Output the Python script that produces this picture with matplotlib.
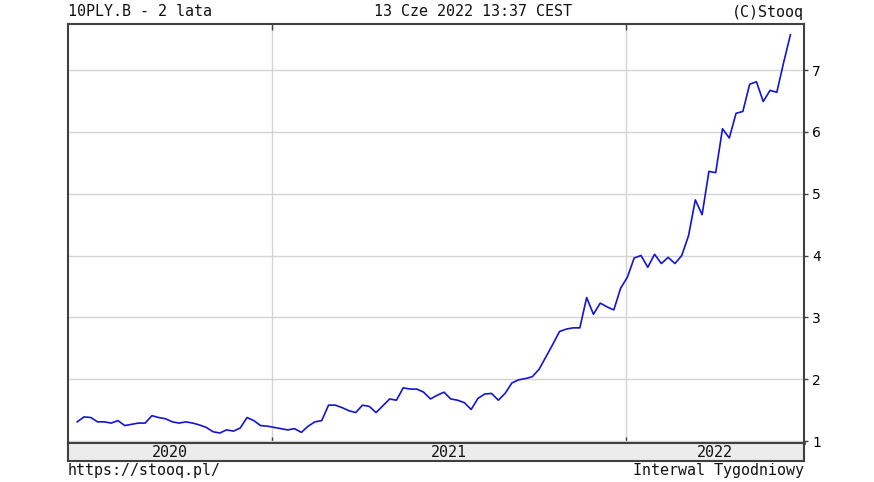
import matplotlib
matplotlib.use('Agg')
import matplotlib.pyplot as plt
import matplotlib.dates as mdates
import matplotlib.transforms as mtransforms
import pandas as pd

# Tygodniowe notowania 10PLY.B (rentownosc)
dates = pd.date_range('2020-06-14', periods=106, freq='7D')
values = [
    1.31, 1.39, 1.38, 1.31, 1.31, 1.29, 1.33, 1.25, 1.27, 1.29,
    1.29, 1.41, 1.38, 1.36, 1.31, 1.29, 1.31, 1.29, 1.26, 1.22,
    1.15, 1.13, 1.18, 1.16, 1.21, 1.38, 1.33, 1.25, 1.24,
    1.22, 1.20, 1.18, 1.20, 1.14, 1.24, 1.31, 1.33, 1.58, 1.58,
    1.54, 1.49, 1.46, 1.58, 1.56, 1.46, 1.57, 1.68, 1.66, 1.86,
    1.84, 1.84, 1.79, 1.68, 1.74, 1.79, 1.68, 1.66,
    1.62, 1.51, 1.69, 1.76, 1.77, 1.66, 1.77, 1.94, 1.99, 2.01,
    2.04, 2.16, 2.36, 2.56, 2.77, 2.81, 2.83, 2.83, 3.32, 3.05,
    3.23, 3.17, 3.12, 3.47, 3.65,
    3.96, 4.00, 3.81, 4.02, 3.87, 3.97, 3.87, 4.00, 4.32, 4.90,
    4.66, 5.36, 5.34, 6.05, 5.90, 6.30, 6.33, 6.77, 6.81, 6.49,
    6.67, 6.64, 7.12, 7.57,
]
y_ticks = [1, 2, 3, 4, 5, 6, 7]
year_bounds = pd.to_datetime(['2021-01-01', '2022-01-01'])
year_labels = ['2020', '2021', '2022']

x_start = pd.Timestamp('2020-06-04')
x_end = pd.Timestamp('2022-07-03')

W, H = 874, 482
fig = plt.figure(figsize=(W / 100, H / 100), dpi=100)
frame = '#404040'
mono = 'DejaVu Sans Mono'

# glowny obszar wykresu
left, right, top, bottom = 67.5, 804, 24, 443
ax = fig.add_axes([left / W, 1 - bottom / H, (right - left) / W, (bottom - top) / H])
ax.plot(dates, values, color='#1414d2', linewidth=1.2)
ax.set_xlim(x_start, x_end)
ax.set_ylim(0.968, 7.744)

ax.set_yticks(y_ticks)
ax.set_xticks(year_bounds)
ax.xaxis.set_major_formatter(plt.NullFormatter())
ax.grid(True, color='#d4d4d4', linewidth=1)
ax.set_axisbelow(True)
ax.yaxis.tick_right()
ax.tick_params(axis='y', which='both', right=True, left=False, direction='out',
               length=3, width=1, color=frame, labelsize=10, pad=3)
ax.tick_params(axis='x', top=True, bottom=True, direction='in',
               length=4, width=1, color=frame)
for s in ax.spines.values():
    s.set_color(frame)
    s.set_linewidth(1.5)
ax.spines['bottom'].set_linewidth(2)

# pasek z latami
band_top, band_bottom = 443, 461
bx = fig.add_axes([left / W, 1 - band_bottom / H, (right - left) / W,
                   (band_bottom - band_top) / H], facecolor='#ececec')
bx.set_xlim(x_start, x_end)
bx.set_xticks([])
bx.set_yticks([])
for s in bx.spines.values():
    s.set_color(frame)
    s.set_linewidth(1.5)
edges = [x_start] + list(year_bounds) + [x_end]
trans = mtransforms.blended_transform_factory(bx.transData, bx.transAxes)
for i, lab in enumerate(year_labels):
    mid = edges[i] + (edges[i + 1] - edges[i]) / 2
    bx.text(mdates.date2num(mid), 0.45, lab, transform=trans, ha='center',
            va='center', fontsize=10.8, family=mono, color='#111111')

# naglowek i stopka
fig.text(left / W, 1 - 12 / H, '10PLY.B - 2 lata', ha='left', va='center',
         fontsize=10.8, family=mono, color='#111111')
fig.text(473.5 / W, 1 - 12 / H, '13 Cze 2022 13:37 CEST', ha='center', va='center',
         fontsize=10.8, family=mono, color='#111111')
fig.text(right / W, 1 - 12 / H, '(C)Stooq', ha='right', va='center',
         fontsize=10.8, family=mono, color='#111111')
fig.text(left / W, 1 - 470 / H, 'https://stooq.pl/', ha='left', va='center',
         fontsize=10.8, family=mono, color='#111111')
fig.text(right / W, 1 - 470 / H, 'Interwal Tygodniowy', ha='right', va='center',
         fontsize=10.8, family=mono, color='#111111')

fig.savefig('out.png', dpi=100, facecolor='white')
